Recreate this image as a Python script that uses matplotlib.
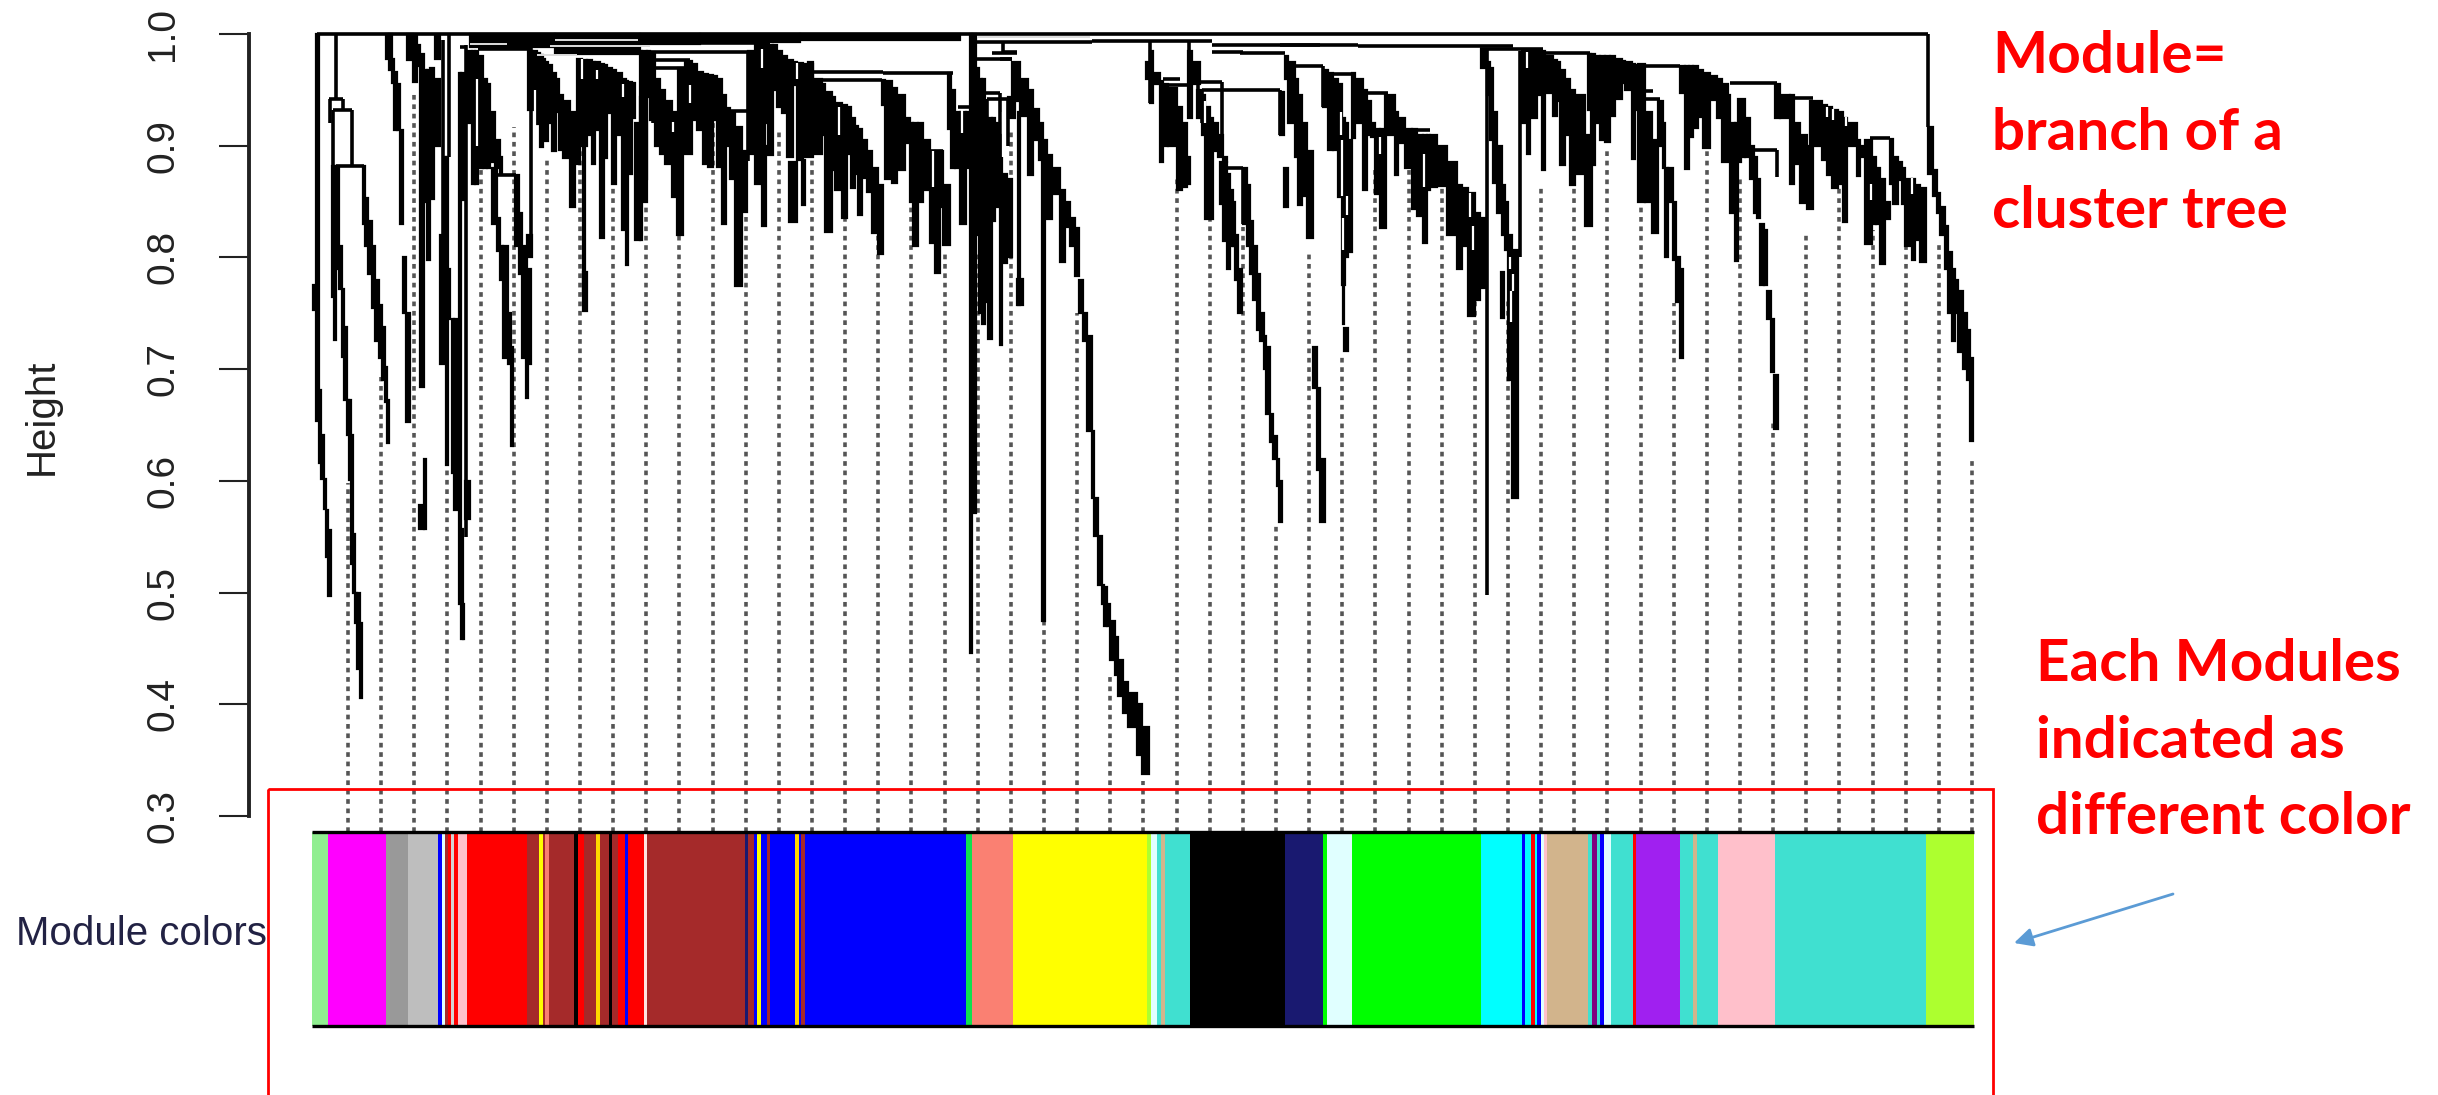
import numpy as np
import matplotlib
matplotlib.use('Agg')
import matplotlib.pyplot as plt
from matplotlib.patches import Rectangle

plt.rcParams['font.family'] = ['Liberation Sans', 'DejaVu Sans']

# Dendrogram y ticks
height_ticks = [0.3, 0.4, 0.5, 0.6, 0.7, 0.8, 0.9, 1.0]

# Height where each dotted guide starts
guide_tops = [.598, .693, .947, .842, .914, .917, .889, .914, .914, .887,
              .867, .92, .887, .914, .923, .858, .822, .86, .804, .804,
              .914, .61, .75, .424, .331, .872, .885, .827, .562, .804,
              .711, .881, .881, .863, .786, .762, .863, .881, .899, .914,
              .759, .923, .872, .652, .822, .887, .825, .845, .813, .619]

# Module colours along the gene order
module_edges = [312, 328, 386, 408, 438, 442, 445, 448, 451, 454, 458, 467, 527, 539, 543, 545, 549,
                574, 578, 584, 596, 600, 609, 612, 618, 625, 628, 644, 647, 745, 748, 754, 757, 761,
                767, 770, 795, 799, 801, 805, 966, 972, 1013, 1147, 1151, 1157, 1161, 1165, 1190,
                1285, 1323, 1327, 1352, 1481, 1522, 1525, 1531, 1535, 1537, 1541, 1544, 1547, 1588,
                1592, 1597, 1600, 1604, 1611, 1633, 1636, 1680, 1693, 1697, 1718, 1775, 1926, 1974]
module_colors = ['lightgreen', 'magenta', '#999999', '#BEBEBE', 'blue', 'lightcyan', 'brown', 'red',
                 'lightgrey', 'red', 'pink', 'red', 'brown', 'yellow', 'brown', 'salmon', 'brown',
                 'black', 'red', 'brown', 'gold', 'brown', 'black', 'brown', 'red', 'blue', 'red',
                 'mistyrose', 'brown', 'midnightblue', 'brown', 'blue', 'yellow', 'blue', 'brown', 'blue',
                 'gold', 'blue', 'brown', 'blue', '#10E050', 'salmon', 'yellow', 'greenyellow', 'lightcyan',
                 'turquoise', 'tan', 'turquoise', 'black', 'midnightblue', 'lime', 'lightcyan', 'lime',
                 'cyan', 'blue', 'cyan', 'red', 'cyan', 'blue', 'lightcyan', 'pink', 'tan', 'turquoise',
                 'purple', 'turquoise', 'blue', 'lightcyan', 'turquoise', 'red', '#A020F0', 'turquoise',
                 'tan', 'turquoise', 'pink', 'turquoise', 'greenyellow']

# Tree branches: column edges in gene order, top and bottom height per column
a_x = [316, 319, 321, 324, 326, 328, 331]
a_top = [1.0, .681, .641, .602, .574, .556]
a_low = [.654, .616, .602, .575, .532, .497]
a0_x = [313, 317]
a0_top = [.775]
a0_low = [.753]
b_x = [332, 334, 336, 339, 342, 344, 347, 349, 351, 353, 355, 357, 360, 362]
b_top = [.882, .882, .882, .81, .772, .738, .672, .672, .641, .552, .5, .5, .473]
b_low = [.765, .726, .79, .772, .711, .672, .641, .601, .526, .5, .473, .432, .406]
c_x = [363, 365, 368, 372, 375, 379, 382, 385, 387, 389]
c_top = [.882, .853, .833, .81, .78, .757, .738, .702, .672]
c_low = [.83, .81, .785, .755, .725, .71, .69, .671, .634]
d_x = [386, 389, 392, 394, 397, 400, 403, 406, 410]
d_top = [1, 1, .978, .966, .955, .914, .80, .75]
d_low = [.978, .968, .956, .914, .914, .83, .75, .653]
e_x = [407, 413, 417, 420, 424]
e_top = [1, .998, .99, .982]
e_low = [.977, .957, .971, .684]
e2_x = [419, 424, 426]
e2_top = [.578, .62]
e2_low = [.557, .557]
f_x = [424, 427, 430, 434, 440]
f_top = [.968, .968, .97, .96]
f_low = [.85, .798, .852, .90]
f2_x = [435, 440]
f2_top = [.998]
f2_low = [.978]
g_x = [440, 444, 446, 448, 450]
g_top = [.82, .89, .89, .79]
g_low = [.705, .73, .614, .745]
h_x = [452, 454, 459, 461, 465]
h_top = [.745, .745, .965, .965]
h_low = [.607, .574, .49, .851]
h2_x = [461, 463, 464]
h2_top = [.557, .49]
h2_low = [.458, .458]
i_x = [465, 470]
i_top = [.6]
i_low = [.566]
j_x = [468, 472, 475, 478, 483, 487, 490, 495, 500, 502]
j_top = [.985, .985, .985, .98, .96, .955, .93, .905, .89]
j_low = [.92, .866, .866, .88, .88, .88, .885, .88, .875]
k_x = [492, 497, 500, 503, 508, 511, 513]
k_top = [.88, .835, .81, .81, .75, .72]
k_low = [.83, .806, .78, .71, .705, .631]
l_x = [515, 519, 522, 527, 531]
l_top = [.874, .84, .81, .79]
l_low = [.81, .785, .71, .705]
l2_x = [526, 528]
l2_top = [.72]
l2_low = [.674]
l3_x = [527, 532]
l3_top = [.82]
l3_low = [.80]
m_x = [528, 533, 537, 540, 543, 545, 548, 552, 556, 559, 563, 570, 575, 580]
m_top = [.985, .985, .983, .981, .978, .975, .972, .965, .96, .945, .94, .93, .915]
m_low = [.932, .944, .919, .899, .92, .904, .92, .895, .93, .896, .889, .845, .884]
n_x = [577, 582, 587, 592, 595, 600, 604, 607, 612, 616, 622, 626, 628, 632, 635, 640, 647]
n_top = [.978, .977, .977, .975, .975, .973, .972, .97, .968, .965, .96, .958, .957, .956, .92, .944]
n_low = [.914, .9, .91, .884, .914, .817, .889, .929, .866, .91, .825, .793, .875, .925, .816, .87]
n2_x = [583, 585]
n2_top = [.9]
n2_low = [.767]
n3_x = [583, 587]
n3_top = [.787]
n3_low = [.752]
o_x = [640, 642, 647, 650, 655, 660, 665, 672, 677, 683]
o_top = [.985, .985, .985, .984, .96, .95, .94, .93, .925]
o_low = [.816, .85, .944, .923, .90, .893, .884, .854, .82]
p_x = [678, 685, 692]
p_top = [.97, .976]
p_low = [.925, .893]
q_x = [692, 697, 703, 708, 713, 717, 722, 726, 730, 735, 742, 747]
q_top = [.973, .966, .964, .963, .962, .96, .945, .934, .929, .917, .895]
q_low = [.923, .914, .884, .881, .923, .881, .83, .9, .87, .774, .841]
r_x = [748, 755, 760, 765, 768, 773, 777, 782, 787, 793, 797, 803, 813]
r_top = [.985, .99, .99, .99, .99, .99, .985, .98, .977, .975, .974, .973]
r_low = [.893, .866, .9, .92, .892, .95, .935, .929, .89, .954, .887, .89]
r2_x = [762, 766]
r2_top = [.9]
r2_low = [.828]
r3_x = [789, 797]
r3_top = [.885]
r3_low = [.832]
r4_x = [802, 805]
r4_top = [.887]
r4_low = [.847]
s_x = [808, 813, 822, 825, 832, 835, 842, 847, 851, 855, 858, 862, 867, 872, 878, 883]
s_top = [.975, .96, .955, .948, .944, .938, .936, .935, .925, .918, .915, .905, .895, .88, .865]
s_low = [.893, .893, .91, .823, .878, .86, .835, .893, .862, .875, .838, .871, .859, .822, .803]
t_x = [882, 885, 892, 897, 905, 910, 913, 918]
t_top = [.959, .958, .952, .945, .925, .92, .92]
t_low = [.936, .87, .867, .878, .902, .85, .81]
u_x = [918, 923, 930, 935, 940, 943, 950]
u_top = [.92, .905, .895, .895, .895, .865]
u_low = [.85, .86, .813, .786, .845, .811]
v_x = [948, 951, 955, 960, 966, 971]
v_top = [.965, .95, .93, .93, .93]
v_low = [.915, .88, .88, .83, .88]
w_x = [970, 972, 976]
w_top = [1, 1]
w_low = [.446, .571]
x_x = [976, 979, 982, 985, 988, 992]
x_top = [.97, .96, .96, .92, .925]
x_low = [.82, .75, .74, .76, .727]
y_x = [992, 995, 1000, 1002, 1007, 1012]
y_top = [.925, .92, .91, .875, .87]
y_low = [.833, .845, .722, .795, .80]
z_x = [1008, 1015]
z_top = [.944]
z_low = [.925]
z2_x = [1018, 1020]
z2_top = [.93]
z2_low = [.757]
z3_x = [1017, 1023]
z3_top = [.781]
z3_low = [.757]
aa_x = [1012, 1020, 1028, 1033, 1039, 1043, 1047, 1052, 1060, 1065, 1070, 1075, 1079, 1083, 1087, 1092]
aa_top = [.975, .96, .95, .933, .92, .905, .892, .88, .86, .85, .835, .826, .78, .75, .73]
aa_low = [.94, .927, .874, .905, .887, .885, .834, .857, .796, .827, .81, .783, .75, .725, .645]
ab_x = [1092, 1094, 1098, 1102, 1104, 1107, 1110, 1115, 1118, 1123, 1128, 1137, 1142, 1149]
ab_top = [.645, .585, .551, .507, .505, .49, .475, .46, .44, .42, .41, .40, .38]
ab_low = [.585, .551, .507, .49, .47, .47, .44, .426, .407, .392, .38, .355, .338]
ab2_x = [1042, 1045]
ab2_top = [.885]
ab2_low = [.475]
ad_x = [1146, 1150, 1153, 1160]
ad_top = [.975, .985, .965]
ad_low = [.96, .938, .955]
ae_x = [1160, 1163, 1168, 1177, 1182, 1187, 1190]
ae_top = [.958, .955, .952, .935, .92, .89]
ae_low = [.885, .9, .9, .86, .863, .866]
af_x = [1188, 1192, 1200]
af_top = [.985, .975]
af_low = [.925, .955]
ag_x = [1197, 1202, 1205, 1210, 1213, 1218, 1223, 1227]
ag_top = [.95, .945, .935, .925, .92, .91, .89]
ag_low = [.925, .91, .834, .834, .895, .89, .885]
ah_x = [1220, 1223, 1227, 1230, 1233, 1235, 1238, 1242]
ah_top = [.885, .885, .875, .86, .85, .82, .79]
ah_low = [.848, .815, .79, .81, .81, .78, .75]
ai_x = [1243, 1247, 1250, 1253, 1257, 1260, 1264, 1266, 1270, 1273, 1277, 1279, 1282]
ai_top = [.88, .865, .833, .81, .785, .75, .73, .72, .66, .64, .62, .60]
ai_low = [.83, .81, .785, .762, .735, .725, .70, .66, .635, .62, .595, .563]
aj_x = [1280, 1284, 1288]
aj_top = [.948, .88]
aj_low = [.91, .845]
ak_x = [1285, 1288, 1295, 1298, 1302, 1307]
ak_top = [.98, .975, .96, .945, .92]
ak_low = [.96, .92, .89, .847, .855]
al_x = [1307, 1313, 1317, 1320, 1325]
al_top = [.895, .72, .683, .62]
al_low = [.817, .683, .61, .563]
am_x = [1323, 1328, 1333, 1338, 1342, 1345, 1348, 1352]
am_top = [.968, .965, .96, .955, .925, .92, .905]
am_low = [.935, .896, .896, .854, .775, .80, .805]
am2_x = [1343, 1344, 1348]
am2_top = [.775, .737]
am2_low = [.74, .716]
an_x = [1352, 1355, 1363, 1367, 1371, 1375, 1380, 1386]
an_top = [.965, .96, .95, .94, .92, .915, .915]
an_low = [.907, .92, .86, .91, .908, .857, .826]
ao_x = [1385, 1395, 1398, 1405, 1412, 1417, 1423, 1427, 1430]
ao_top = [.945, .93, .925, .915, .915, .91, .91, .91]
ao_low = [.91, .874, .902, .88, .843, .837, .813, .86]
ap_x = [1430, 1437, 1447, 1457, 1462, 1468, 1475, 1480, 1485]
ap_top = [.91, .9, .885, .865, .862, .858, .84, .835]
ap_low = [.863, .864, .82, .79, .81, .748, .762, .773]
aq_x = [1481, 1487, 1490, 1493, 1497, 1502, 1505, 1508, 1512, 1518]
aq_top = [.987, .975, .97, .93, .90, .865, .85, .82, .807]
aq_low = [.97, .945, .905, .867, .84, .82, .807, .69, .585]
aq2_x = [1501, 1504]
aq2_top = [.787]
aq2_low = [.746]
ar_x = [1522, 1527, 1530, 1537, 1542, 1545, 1553, 1557, 1560, 1565, 1570, 1575, 1585, 1592]
ar_top = [.985, .985, .985, .985, .985, .98, .977, .975, .968, .96, .95, .945, .91]
ar_low = [.92, .893, .925, .945, .878, .947, .927, .94, .883, .91, .865, .875, .828]
as_x = [1588, 1591, 1595, 1600, 1605, 1610, 1615, 1622, 1625, 1632, 1635, 1640]
as_top = [.982, .982, .98, .98, .98, .98, .978, .976, .975, .973, .972]
as_low = [.932, .883, .92, .905, .903, .927, .942, .956, .95, .888, .932]
at_x = [1638, 1645, 1652, 1658]
at_top = [.973, .93, .905]
at_low = [.85, .85, .822]
au_x = [1658, 1663, 1665, 1668, 1673, 1676, 1680, 1683]
au_top = [.94, .92, .88, .88, .85, .80, .79]
au_low = [.90, .88, .80, .85, .798, .76, .71]
av_x = [1680, 1685, 1689, 1693, 1698, 1703, 1710, 1717, 1722, 1728]
av_top = [.971, .971, .971, .971, .968, .965, .962, .96, .955]
av_low = [.947, .879, .908, .916, .926, .898, .941, .925, .94]
aw_x = [1722, 1730, 1735, 1738, 1741]
aw_top = [.945, .92, .92, .915]
aw_low = [.885, .84, .797, .885]
ax_x = [1738, 1745, 1750, 1754, 1757, 1760, 1764, 1767, 1771, 1774, 1778]
ax_top = [.942, .925, .9, .89, .87, .83, .825, .77, .745, .695]
ax_low = [.89, .89, .87, .84, .835, .775, .775, .745, .697, .646]
ay_x = [1775, 1780, 1790, 1794, 1800, 1807, 1813]
ay_top = [.955, .945, .945, .92, .91, .90]
ay_low = [.925, .925, .866, .884, .849, .843]
az_x = [1810, 1822, 1827, 1832, 1838, 1843, 1847, 1857, 1860, 1865]
az_top = [.94, .936, .935, .932, .93, .925, .92, .905, .90]
az_low = [.90, .887, .874, .862, .866, .832, .90, .873, .89]
ba_x = [1865, 1872, 1876, 1880, 1885, 1890]
ba_top = [.905, .89, .88, .87, .85]
ba_low = [.812, .83, .83, .794, .834]
bb_x = [1890, 1893, 1898, 1902, 1905, 1912, 1915, 1920, 1926]
bb_top = [.906, .89, .885, .88, .87, .87, .865, .862]
bb_low = [.866, .848, .869, .848, .81, .798, .816, .796]
bc_x = [1928, 1933, 1937, 1940, 1945, 1948, 1952, 1955, 1958, 1963, 1967, 1970, 1973]
bc_top = [.917, .878, .858, .845, .828, .805, .79, .78, .77, .75, .735, .71]
bc_low = [.875, .855, .84, .82, .79, .75, .725, .75, .715, .70, .69, .636]
band_x = [470, 555, 640, 700, 800, 960]
band_top = [1.0, 1.0, 1.0, 1.0, 1.0]
band_low = [.988, .982, .991, .993, .995]

branches = [(a_x, a_top, a_low), (a0_x, a0_top, a0_low), (b_x, b_top, b_low), (c_x, c_top, c_low),
            (d_x, d_top, d_low), (e_x, e_top, e_low), (e2_x, e2_top, e2_low), (f_x, f_top, f_low),
            (f2_x, f2_top, f2_low), (g_x, g_top, g_low), (h_x, h_top, h_low), (h2_x, h2_top, h2_low),
            (i_x, i_top, i_low), (j_x, j_top, j_low), (k_x, k_top, k_low), (l_x, l_top, l_low),
            (l2_x, l2_top, l2_low), (l3_x, l3_top, l3_low), (m_x, m_top, m_low), (n_x, n_top, n_low),
            (n2_x, n2_top, n2_low), (n3_x, n3_top, n3_low), (o_x, o_top, o_low), (p_x, p_top, p_low),
            (q_x, q_top, q_low), (r_x, r_top, r_low), (r2_x, r2_top, r2_low), (r3_x, r3_top, r3_low),
            (r4_x, r4_top, r4_low), (s_x, s_top, s_low), (t_x, t_top, t_low), (u_x, u_top, u_low),
            (v_x, v_top, v_low), (w_x, w_top, w_low), (x_x, x_top, x_low), (y_x, y_top, y_low),
            (z_x, z_top, z_low), (z2_x, z2_top, z2_low), (z3_x, z3_top, z3_low), (aa_x, aa_top, aa_low),
            (ab_x, ab_top, ab_low), (ab2_x, ab2_top, ab2_low), (ad_x, ad_top, ad_low), (ae_x, ae_top, ae_low),
            (af_x, af_top, af_low), (ag_x, ag_top, ag_low), (ah_x, ah_top, ah_low), (ai_x, ai_top, ai_low),
            (aj_x, aj_top, aj_low), (ak_x, ak_top, ak_low), (al_x, al_top, al_low), (am_x, am_top, am_low),
            (am2_x, am2_top, am2_low), (an_x, an_top, an_low), (ao_x, ao_top, ao_low), (ap_x, ap_top, ap_low),
            (aq_x, aq_top, aq_low), (aq2_x, aq2_top, aq2_low), (ar_x, ar_top, ar_low), (as_x, as_top, as_low),
            (at_x, at_top, at_low), (au_x, au_top, au_low), (av_x, av_top, av_low), (aw_x, aw_top, aw_low),
            (ax_x, ax_top, ax_low), (ay_x, ay_top, ay_low), (az_x, az_top, az_low), (ba_x, ba_top, ba_low),
            (bb_x, bb_top, bb_low), (bc_x, bc_top, bc_low), (band_x, band_top, band_low)]

# Single vertical stems of the tree
stem_x = [336, 330, 343, 333, 352, 364, 442.5, 449, 466, 531, 477, 516, 748, 653, 1003, 975, 1150,
          1189, 1520, 1486.5, 1777, 1280, 1928, 685, 1323, 982, 987, 1000, 1008, 1243, 1198, 1222, 1202]
stem_top = [1.0, .942, .942, .932, .932, .882, .995, 1.0, .99, .988, .985, .874, .984, .97, .993, .978, .993,
            .993, .985, .987, .896, .95, 1.0, .97, .971, .947, .942, .947, .942, .88, .957, .957, .95]
stem_low = [.942, .92, .932, .882, .882, .85, .82, .89, .55, .80, .866, .81, .886, .92, .984, .90, .938,
            .925, .80, .498, .872, .91, .917, .92, .935, .92, .90, .90, .90, .83, .93, .90, .92]

# Horizontal merges of the tree
merge_x0 = [317, 329, 333, 336, 492, 460, 478, 640, 640, 655, 653, 730, 812, 883, 817, 927, 958,
            977, 1092, 1003, 992, 975, 982, 987, 1212, 1212, 1240, 1198, 1202, 1163, 1165, 1280, 1358,
            1480, 1543, 1295, 1333, 1368, 1413, 1640, 1730, 1793, 1645, 1643, 1870, 1753, 1220, 1000]
merge_x1 = [1928, 343, 352, 364, 516, 466, 532, 770, 748, 690, 685, 748, 883, 953, 882, 943, 970,
            1092, 1212, 1017, 1017, 1012, 1000, 1008, 1320, 1243, 1285, 1222, 1280, 1180, 1187, 1358, 1513,
            1543, 1590, 1323, 1353, 1388, 1430, 1680, 1777, 1813, 1660, 1653, 1890, 1777, 1243, 1012]
merge_h = [1.0, .942, .932, .882, .874, .988, .987, .992, .984, .977, .97, .931, .966, .965, .959, .895, .935,
           .993, .994, .984, .983, .978, .947, .942, .99, .984, .983, .957, .95, .96, .954, .99, .989,
           .987, .983, .971, .964, .947, .914, .971, .956, .943, .942, .949, .907, .896, .88, .978]

# Thin white gaps inside the solid branches: position, top, bottom
gap_x = [582, 597, 623, 673, 690, 797, 762, 839, 933, 962, 1341, 1342, 1343, 1347, 1380, 1527, 1510,
         1511, 1513, 1470, 1473, 1424, 1827, 1833, 1846, 1871, 1912, 454, 477, 535, 1003, 1205]
gap_top = [.978, .968, .955, .921, .954, .974, .987, .935, .895, .933, .93, .905, .835, .855, .908, .984, .80,
           .77, .785, .858, .828, .893, .935, .933, .926, .866, .871, .80, .96, .95, .93, .94]
gap_low = [.96, .96, .944, .912, .938, .96, .97, .91, .863, .911, .91, .855, .807, .838, .893, .97, .79,
           .742, .77, .836, .807, .863, .926, .923, .918, .851, .857, .76, .90, .90, .89, .92]

# Light slits in the dark band at the top of the tree
slit_x0 = [555, 550, 470, 537, 977]
slit_x1 = [638, 650, 507, 577, 1090]
slit_h = [.995, .989, .991, .981, .997]

# Text beside the chart
note_top = ['Module=', 'branch of a', 'cluster tree']
note_bottom = ['Each Modules', 'indicated as', 'different color']

fig = plt.figure(figsize=(24.38, 10.95), dpi=100)
W, H = 2438.0, 1095.0

# Tree
ax = fig.add_axes([0, 1 - 816 / H, 1, 782 / H])
ax.patch.set_visible(False)
ax.set_xlim(0, W)
ax.set_ylim(0.3, 1.0)

guide_x = np.linspace(348, 1972, len(guide_tops))
ax.vlines(guide_x, 0.2857, guide_tops, colors='#555555', linewidth=2.6,
          linestyles=(0, (1.3, 1.3)), clip_on=False, zorder=1)

# edge line makes the columns as heavy as in the blurred original
for bx, btop, blow in branches:
    ax.bar(bx[:-1], np.subtract(btop, blow), width=np.diff(bx), bottom=blow, align='edge',
           color='black', edgecolor='black', linewidth=1.6, clip_on=False, zorder=2)

ax.vlines(stem_x, stem_low, stem_top, colors='black', linewidth=2.6, clip_on=False, zorder=2)
ax.hlines(merge_h, merge_x0, merge_x1, colors='black', linewidth=2.6, clip_on=False, zorder=2)
ax.vlines(gap_x, gap_low, gap_top, colors='white', linewidth=1.6, zorder=3)
ax.hlines(slit_h, slit_x0, slit_x1, colors='#DDDDDD', linewidth=1.4, zorder=3)

ax.spines[['top', 'right', 'bottom']].set_visible(False)
ax.spines['left'].set_position(('data', 249))
ax.spines['left'].set_linewidth(2.8)
ax.spines['left'].set_color('#222222')
ax.set_xticks([])
ax.set_yticks(height_ticks)
ax.set_yticklabels(['%.1f' % t for t in height_ticks], rotation=90, va='center', fontsize=28, color='#222222')
ax.tick_params(axis='y', length=21.6, width=1.5, pad=27, colors='#222222')
ax.text(42, 0.657, 'Height', rotation=90, va='center', ha='center', fontsize=29, color='#222222')

# Colour strip
ax_bar = fig.add_axes([0, 1 - 1026 / H, 1, 194 / H])
ax_bar.axis('off')
ax_bar.set_xlim(0, W)
ax_bar.set_ylim(0, 1)
ax_bar.bar(module_edges[:-1], 1, width=np.diff(module_edges), align='edge', color=module_colors, linewidth=0)
ax_bar.hlines([0, 1], module_edges[0], module_edges[-1], colors='black', linewidth=2.4, clip_on=False)
ax_bar.text(16, 0.418, 'Module colors', va='baseline', ha='left', fontsize=29, color='#222244')

# Red frame and notes
over = fig.add_axes([0, 0, 1, 1])
over.axis('off')
over.set_xlim(0, W)
over.set_ylim(H, 0)
over.add_patch(Rectangle((268, 789), 1725, 400, fill=False, edgecolor='red', linewidth=2))
for line, base in zip(note_top, [73, 150, 228]):
    over.text(1992, base, line, color='red', fontsize=42, fontweight='bold', family='Lato', va='baseline')
for line, base in zip(note_bottom, [681, 758, 834]):
    over.text(2036, base, line, color='red', fontsize=42, fontweight='bold', family='Lato', va='baseline')
over.annotate('', xy=(2014, 943), xytext=(2173, 894),
              arrowprops=dict(arrowstyle='-|>', color='#5B9BD5', lw=2, mutation_scale=28, shrinkA=0, shrinkB=0))

fig.savefig('out.png', dpi=100)
